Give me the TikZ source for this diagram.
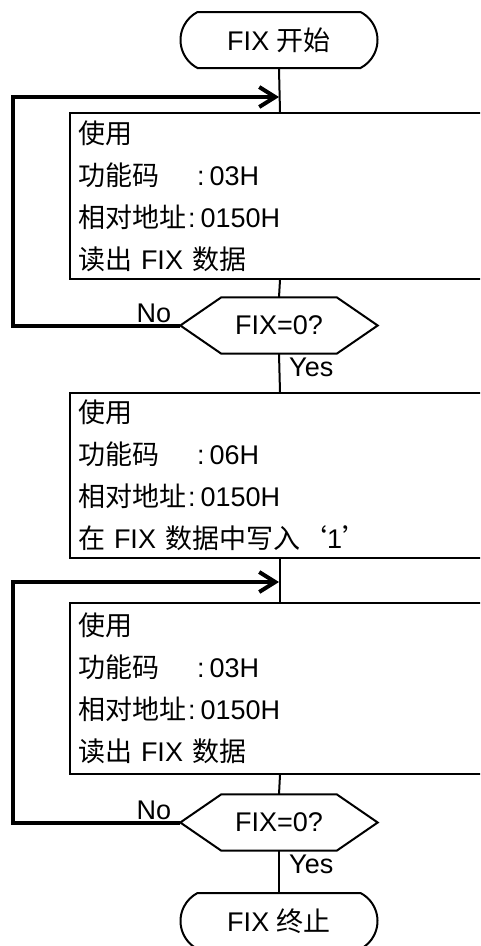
\documentclass[tikz,border=0pt]{standalone}
\usepackage{fontspec}
\setmainfont{Liberation Sans}
\newfontfamily\cjk{Noto Sans CJK SC}
\usetikzlibrary{
arrows.meta,
calc,
shapes.misc,
}

\begin{document}
\begin{tikzpicture}[x=1pt, y=-1pt,
	every node/.style={font=\fontsize{27}{42}\selectfont},
	flow/.style={line width=2pt},
	backline/.style={line width=4pt, -{Straight Barb[length=16pt,width=20pt]}},
	terminal/.style={draw, line width=2pt, rounded rectangle, rounded rectangle arc length=125, minimum width=197pt, minimum height=56pt, inner sep=0pt},
	procbox/.style={draw, line width=2pt, anchor=north west, text width=404pt, inner xsep=8pt, inner ysep=0pt, align=left},
	decision/.style={minimum width=115pt, minimum height=56pt, inner sep=0pt},
	answer/.style={inner sep=0pt}]
			\useasboundingbox (0,0) rectangle (480,946);
			\clip (0,0) rectangle (480,946);

			\node[terminal] (start) at (279,40) {FIX {\cjk 开始}};
			\node[procbox, minimum height=166pt] (read1) at (69,112) {{\cjk 使用}\\
				{\cjk 功能码}\kern38pt:\kern5pt 03H\\
				{\cjk 相对地址}\kern2pt:\kern5pt 0150H\\
				{\cjk 读出} FIX {\cjk 数据}};
			\node[decision] (d1) at (279,325.5) {FIX=0?};
			\coordinate (d1w) at ($(d1.west)+(-41,0)$);
			\coordinate (d1e) at ($(d1.east)+(41,0)$);
			\node[answer, anchor=base east] (no1) at ($(d1w)+(-9,-3)$) {No};
			\node[answer, anchor=base west] (yes1) at ($(d1.south)+(10,23)$) {Yes};

			\node[procbox, minimum height=165pt] (write) at (69,392) {{\cjk 使用}\\
				{\cjk 功能码}\kern38pt:\kern5pt 06H\\
				{\cjk 相对地址}\kern2pt:\kern5pt 0150H\\
				{\cjk 在} FIX {\cjk 数据中写入‘}1{\cjk ’}};

			\node[procbox, minimum height=171pt] (read2) at (69,602) {{\cjk 使用}\\
				{\cjk 功能码}\kern38pt:\kern5pt 03H\\
				{\cjk 相对地址}\kern2pt:\kern5pt 0150H\\
				{\cjk 读出} FIX {\cjk 数据}};
			\node[decision] (d2) at (279,822.5) {FIX=0?};
			\coordinate (d2w) at ($(d2.west)+(-41,0)$);
			\coordinate (d2e) at ($(d2.east)+(41,0)$);
			\node[answer, anchor=base east] (no2) at ($(d2w)+(-9,-3)$) {No};
			\node[answer, anchor=base west] (yes2) at ($(d2.south)+(10,23)$) {Yes};

			\node[terminal] (stop) at (279,921) {FIX {\cjk 终止}};

			% hexagons
			\draw[flow] (d1.north west) -- (d1.north east) -- (d1e) -- (d1.south east) -- (d1.south west) -- (d1w) -- cycle;
			\draw[flow] (d2.north west) -- (d2.north east) -- (d2e) -- (d2.south east) -- (d2.south west) -- (d2w) -- cycle;

			\draw[flow] (start.south) -- (read1.north);
			\draw[flow] (read1.south) -- (d1.north);
			\draw[flow] (d1.south) -- (write.north);
			\draw[flow] (write.south) -- (read2.north);
			\draw[flow] (read2.south) -- (d2.north);
			\draw[flow] (d2.south) -- (stop.north);

			% loops back
			\coordinate (in1) at (279,97);
			\coordinate (in2) at (279,582);
			\draw[backline] (d1w) -- ++(-167,0) |- (in1);
			\draw[backline] (d2w) -- ++(-167,0) |- (in2);
		\end{tikzpicture}
\end{document}
